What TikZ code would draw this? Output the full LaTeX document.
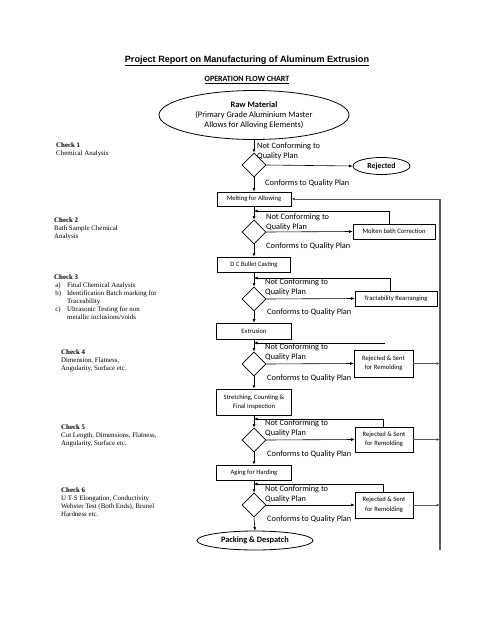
\documentclass[tikz,border=0pt]{standalone}
\usepackage{fontspec}
\setmainfont{Carlito}
\newfontfamily\seriffont{Liberation Serif}
\newfontfamily\titlefont{Liberation Sans}
\usetikzlibrary{shapes.geometric,arrows.meta}
\begin{document}
\begin{tikzpicture}[x=1pt,y=-1pt,
 arr/.style={-{Latex[length=3.5pt,width=3pt]}, line width=0.6pt},
 box/.style={draw, line width=0.7pt, inner sep=0, align=center, font=\fontsize{6.6}{9.5}\selectfont},
 dia/.style={draw, diamond, aspect=1, minimum width=24pt, minimum height=24pt, inner sep=0, line width=0.7pt},
 ell/.style={draw, ellipse, inner sep=0, line width=0.8pt, align=center},
 lab/.style={anchor=west, inner sep=0, font=\fontsize{8.3}{10}\selectfont, align=left},
 chk/.style={anchor=north west, inner sep=0, font=\seriffont\fontsize{6.9}{8}\selectfont, align=left},
 garr/.style={-{Latex[length=3.5pt,width=3pt]}, draw=gray!70!black, line width=0.9pt},
 gline/.style={draw=gray!70!black, line width=1.3pt}
]
\useasboundingbox[fill=white] (0,0) rectangle (495,640);

% titles
\node[inner sep=0, font=\titlefont\bfseries\fontsize{9.1}{11}\selectfont] (title) at (247,61) {\underline{Project Report on Manufacturing of Aluminum Extrusion}};
\node[inner sep=0, font=\bfseries\fontsize{8}{9}\selectfont] (sub) at (247,80) {\underline{OPERATION FLOW CHART}};

% main column
\node[ell, minimum width=190pt, minimum height=49pt, font=\fontsize{8.4}{10}\selectfont] (raw) at (254,115) {\textbf{Raw Material}\\(Primary Grade Aluminium Master\\Allows for Alloving Elements)};
\node[dia] (d1) at (254,165) {};
\node[ell, minimum width=57pt, minimum height=17pt, font=\bfseries\fontsize{7.8}{9}\selectfont] (rej) at (381.5,166) {Rejected};
\node[box, minimum width=74pt, minimum height=14pt] (melt) at (254,199) {Melting for Allowing};
\node[dia] (d2) at (254,232) {};
\node[box, minimum width=82pt, minimum height=15pt] (molten) at (394,231.5) {Molten bath Correction};
\node[box, minimum width=73pt, minimum height=15pt] (dc) at (254,264.5) {D C Bullet Casting};
\node[dia] (d3) at (254,299) {};
\node[box, minimum width=82pt, minimum height=15pt] (trac) at (396,298.5) {Tractability Rearranging};
\node[box, minimum width=75pt, minimum height=16pt] (extr) at (254,331) {Extrusion};
\node[dia] (d4) at (254,364) {};
\node[box, minimum width=59pt, minimum height=27pt] (r4) at (383.5,363.5) {Rejected \& Sent\\for Remolding};
\node[box, minimum width=75pt, minimum height=26pt] (stretch) at (254,402) {Stretching, Counting \&\\Final Inspection};
\node[dia] (d5) at (254,440) {};
\node[box, minimum width=58pt, minimum height=25pt] (r5) at (384,439.5) {Rejected \& Sent\\for Remolding};
\node[box, minimum width=75pt, minimum height=15pt] (aging) at (254,472.5) {Aging for Harding};
\node[dia] (d6) at (254,505) {};
\node[box, minimum width=58pt, minimum height=26pt] (r6) at (384,505) {Rejected \& Sent\\for Remolding};
\node[ell, minimum width=116pt, minimum height=19pt, font=\bfseries\fontsize{8.3}{10}\selectfont] (pack) at (255,540.5) {Packing \& Despatch};

% labels
\node[lab] (n1) at (257,151) {Not Conforming to\\Quality Plan};
\node[lab] (c1) at (265,183) {Conforms to Quality Plan};
\node[lab] (n2) at (266,222) {Not Conforming to\\Quality Plan};
\node[lab] (c2) at (266,246) {Conforms to Quality Plan};
\node[lab] (n3) at (265,287) {Not Conforming to\\Quality Plan};
\node[lab] (c3) at (267,312) {Conforms to Quality Plan};
\node[lab] (n4) at (265,352) {Not Conforming to\\Quality Plan};
\node[lab] (c4) at (267,378) {Conforms to Quality Plan};
\node[lab] (n5) at (265,428) {Not Conforming to\\Quality Plan};
\node[lab] (c5) at (267,454) {Conforms to Quality Plan};
\node[lab] (n6) at (265,494) {Not Conforming to\\Quality Plan};
\node[lab] (c6) at (267,519) {Conforms to Quality Plan};

% checks
\node[chk] (k1) at (56,142.5) {\textbf{Check 1}\\Chemical Analysis};
\node[chk] (k2) at (54,217.5) {\textbf{Check 2}\\Bath Sample Chemical\\Analysis};
\node[chk] (k3) at (54,274.5) {\textbf{Check 3}\\\makebox[13pt][l]{\,a)}Final Chemical Analysis\\\makebox[13pt][l]{\,b)}Identification Batch marking for\\\hspace*{13pt}Traceability\\\makebox[13pt][l]{\,c)}Ultrasonic Testing for non\\\hspace*{13pt}metallic inclusions/voids};
\node[chk] (k4) at (61,349.5) {\textbf{Check 4}\\Dimension, Flatness,\\Angularity, Surface etc.};
\node[chk] (k5) at (61,424.5) {\textbf{Check 5}\\Cut Length, Dimensions, Flatness,\\Angularity, Surface etc.};
\node[chk] (k6) at (61,487.5) {\textbf{Check 6}\\U T S Elongation, Conductivity\\Webster Test (Both Ends), Brunel\\Hardness etc.};

% coordinates
\coordinate (fb2) at (254,211);
\coordinate (fb3) at (254,278);
\coordinate (fb4s) at (385,343);
\coordinate (fb4) at (254,343);
\coordinate (fb5) at (254,419);
\coordinate (fb6) at (254,484);
\coordinate (bigb) at (440,550);

% main flow
\draw[arr] (raw.south) -- (d1.north);
\draw[arr] (d1.east) -- (rej.west);
\draw[arr] (d1.south) -- (melt.north);
\draw[arr] (melt.south) -- (d2.north);
\draw[arr] (d2.east) -- (molten.west);
\draw[arr] ([xshift=-5pt]molten.north) |- (fb2);
\draw[arr] (d2.south) -- (dc.north);
\draw[arr] (dc.south) -- (d3.north);
\draw[arr] (d3.east) -- (trac.west);
\draw[arr] ([xshift=-6pt]trac.north) |- (fb3);
\draw[arr] (d3.south) -- (extr.north);
\draw[arr] (extr.south) -- (d4.north);
\draw[arr] (d4.east) -- (r4.west);
\draw[arr] (fb4s) -- (fb4);
\draw[arr] (d4.south) -- (stretch.north);
\draw[arr] (stretch.south) -- (d5.north);
\draw[arr] (d5.east) -- (r5.west);
\draw[arr] ([xshift=-1pt]r5.north) |- (fb5);
\draw[arr] (d5.south) -- (aging.north);
\draw[arr] (aging.south) -- (d6.north);
\draw[arr] (d6.east) -- (r6.west);
\draw[arr] ([xshift=-1pt]r6.north) |- (fb6);
\draw[arr] (d6.south) -- (pack.north);

% big return line
\draw[gline] (bigb) -- (bigb |- melt.east);
\draw[garr] (bigb |- melt.east) -- (melt.east);
\draw[garr] (r4.east) -- (r4.east -| bigb);
\draw[garr] (r5.east) -- (r5.east -| bigb);
\draw[garr] (r6.east) -- (r6.east -| bigb);
\end{tikzpicture}
\end{document}
